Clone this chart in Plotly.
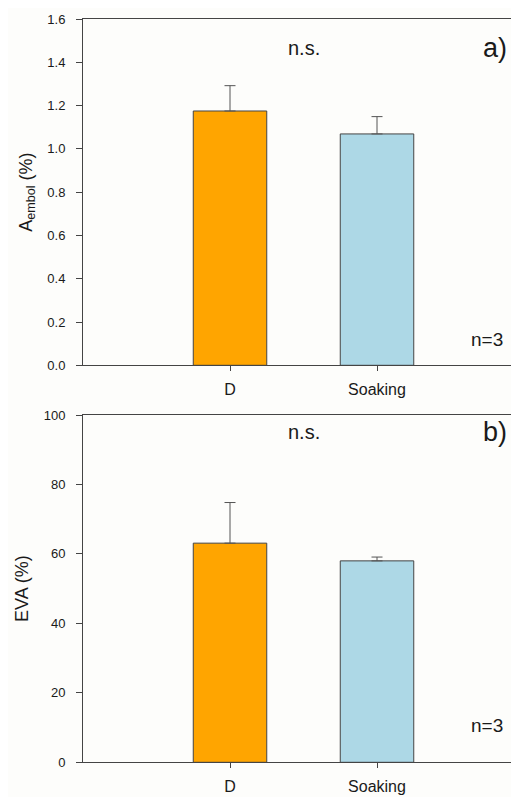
import plotly.graph_objects as go

categories = ["D", "Soaking"]
embol_mean = [1.175, 1.069]
embol_err = [0.117, 0.080]
eva_mean = [63.1, 58.0]
eva_err = [11.7, 1.1]
bar_colors = ["#FFA500", "#ADD8E6"]

# page has an 8px body margin; figure starts at (8, 8) in the window
W, H = 516, 789
OFF = 8
FONT = "Liberation Sans, Arial, sans-serif"
TXT = "#1a1a1a"
LINE = "#444444"

fig = go.Figure()
for i, (vals, errs) in enumerate([(embol_mean, embol_err), (eva_mean, eva_err)]):
    xa = "x" if i == 0 else "x2"
    ya = "y" if i == 0 else "y2"
    fig.add_trace(go.Bar(
        x=categories, y=vals, width=0.5,
        marker=dict(color=bar_colors, line=dict(color=LINE, width=1)),
        error_y=dict(type="data", array=errs, arrayminus=[0, 0], symmetric=False,
                     color="#555555", thickness=1, width=5.5),
        xaxis=xa, yaxis=ya, showlegend=False,
    ))

def py(p):
    return 1 - (p - OFF) / H

common_x = dict(
    type="category", categoryorder="array", categoryarray=categories,
    range=[-1, 2.0], showline=True, linecolor=LINE, linewidth=1, mirror=True,
    ticks="outside", ticklen=5, tickcolor=LINE, tickwidth=1,
    tickfont=dict(family=FONT, size=16, color=TXT), showgrid=False, zeroline=False,
    ticklabelstandoff=4, automargin=False,
)
common_y = dict(
    showline=True, linecolor=LINE, linewidth=1, ticks="outside", ticklen=6,
    tickcolor=LINE, tickwidth=1, tickfont=dict(family=FONT, size=13, color=TXT),
    showgrid=False, zeroline=False, ticklabelstandoff=8, automargin=False,
)

fig.update_layout(
    width=W, height=H,
    margin=dict(l=83 - OFF, r=0, t=0, b=0, autoexpand=False),
    paper_bgcolor="#fdfdfb", plot_bgcolor="#fdfdfb",
    bargap=0.5,
    xaxis=dict(common_x, anchor="y", domain=[0, 1]),
    yaxis=dict(common_y, anchor="x", domain=[py(365.3), py(19)], range=[0, 1.6],
               tickvals=[0, 0.2, 0.4, 0.6, 0.8, 1.0, 1.2, 1.4, 1.6],
               ticktext=["0.0", "0.2", "0.4", "0.6", "0.8", "1.0", "1.2", "1.4", "1.6"],
               title=dict(text="A<sub>embol</sub> (%)", font=dict(family=FONT, size=18, color=TXT), standoff=10)),
    xaxis2=dict(common_x, anchor="y2", domain=[0, 1]),
    yaxis2=dict(common_y, anchor="x2", domain=[py(762.3), py(415)], range=[0, 100],
                tickvals=[0, 20, 40, 60, 80, 100],
                title=dict(text="EVA (%)", font=dict(family=FONT, size=18, color=TXT), standoff=10)),
)

ann = []
for xr, yr, ns_y, n_y, lab in [("x", "y", 1.465, 0.12, "a)"), ("x2", "y2", 95.2, 10.5, "b)")]:
    ann.append(dict(x=0.5, y=ns_y, xref=xr, yref=yr, text="n.s.", showarrow=False,
                    font=dict(family=FONT, size=20, color=TXT), xanchor="center", yanchor="middle"))
    ann.append(dict(x=1.805, y=ns_y, xref=xr, yref=yr, text=lab, showarrow=False,
                    font=dict(family=FONT, size=27, color=TXT), xanchor="center", yanchor="middle"))
    ann.append(dict(x=1.75, y=n_y, xref=xr, yref=yr, text="n=3", showarrow=False,
                    font=dict(family=FONT, size=19, color=TXT), xanchor="center", yanchor="middle"))
fig.update_layout(annotations=ann)

fig.write_html("out.html")
